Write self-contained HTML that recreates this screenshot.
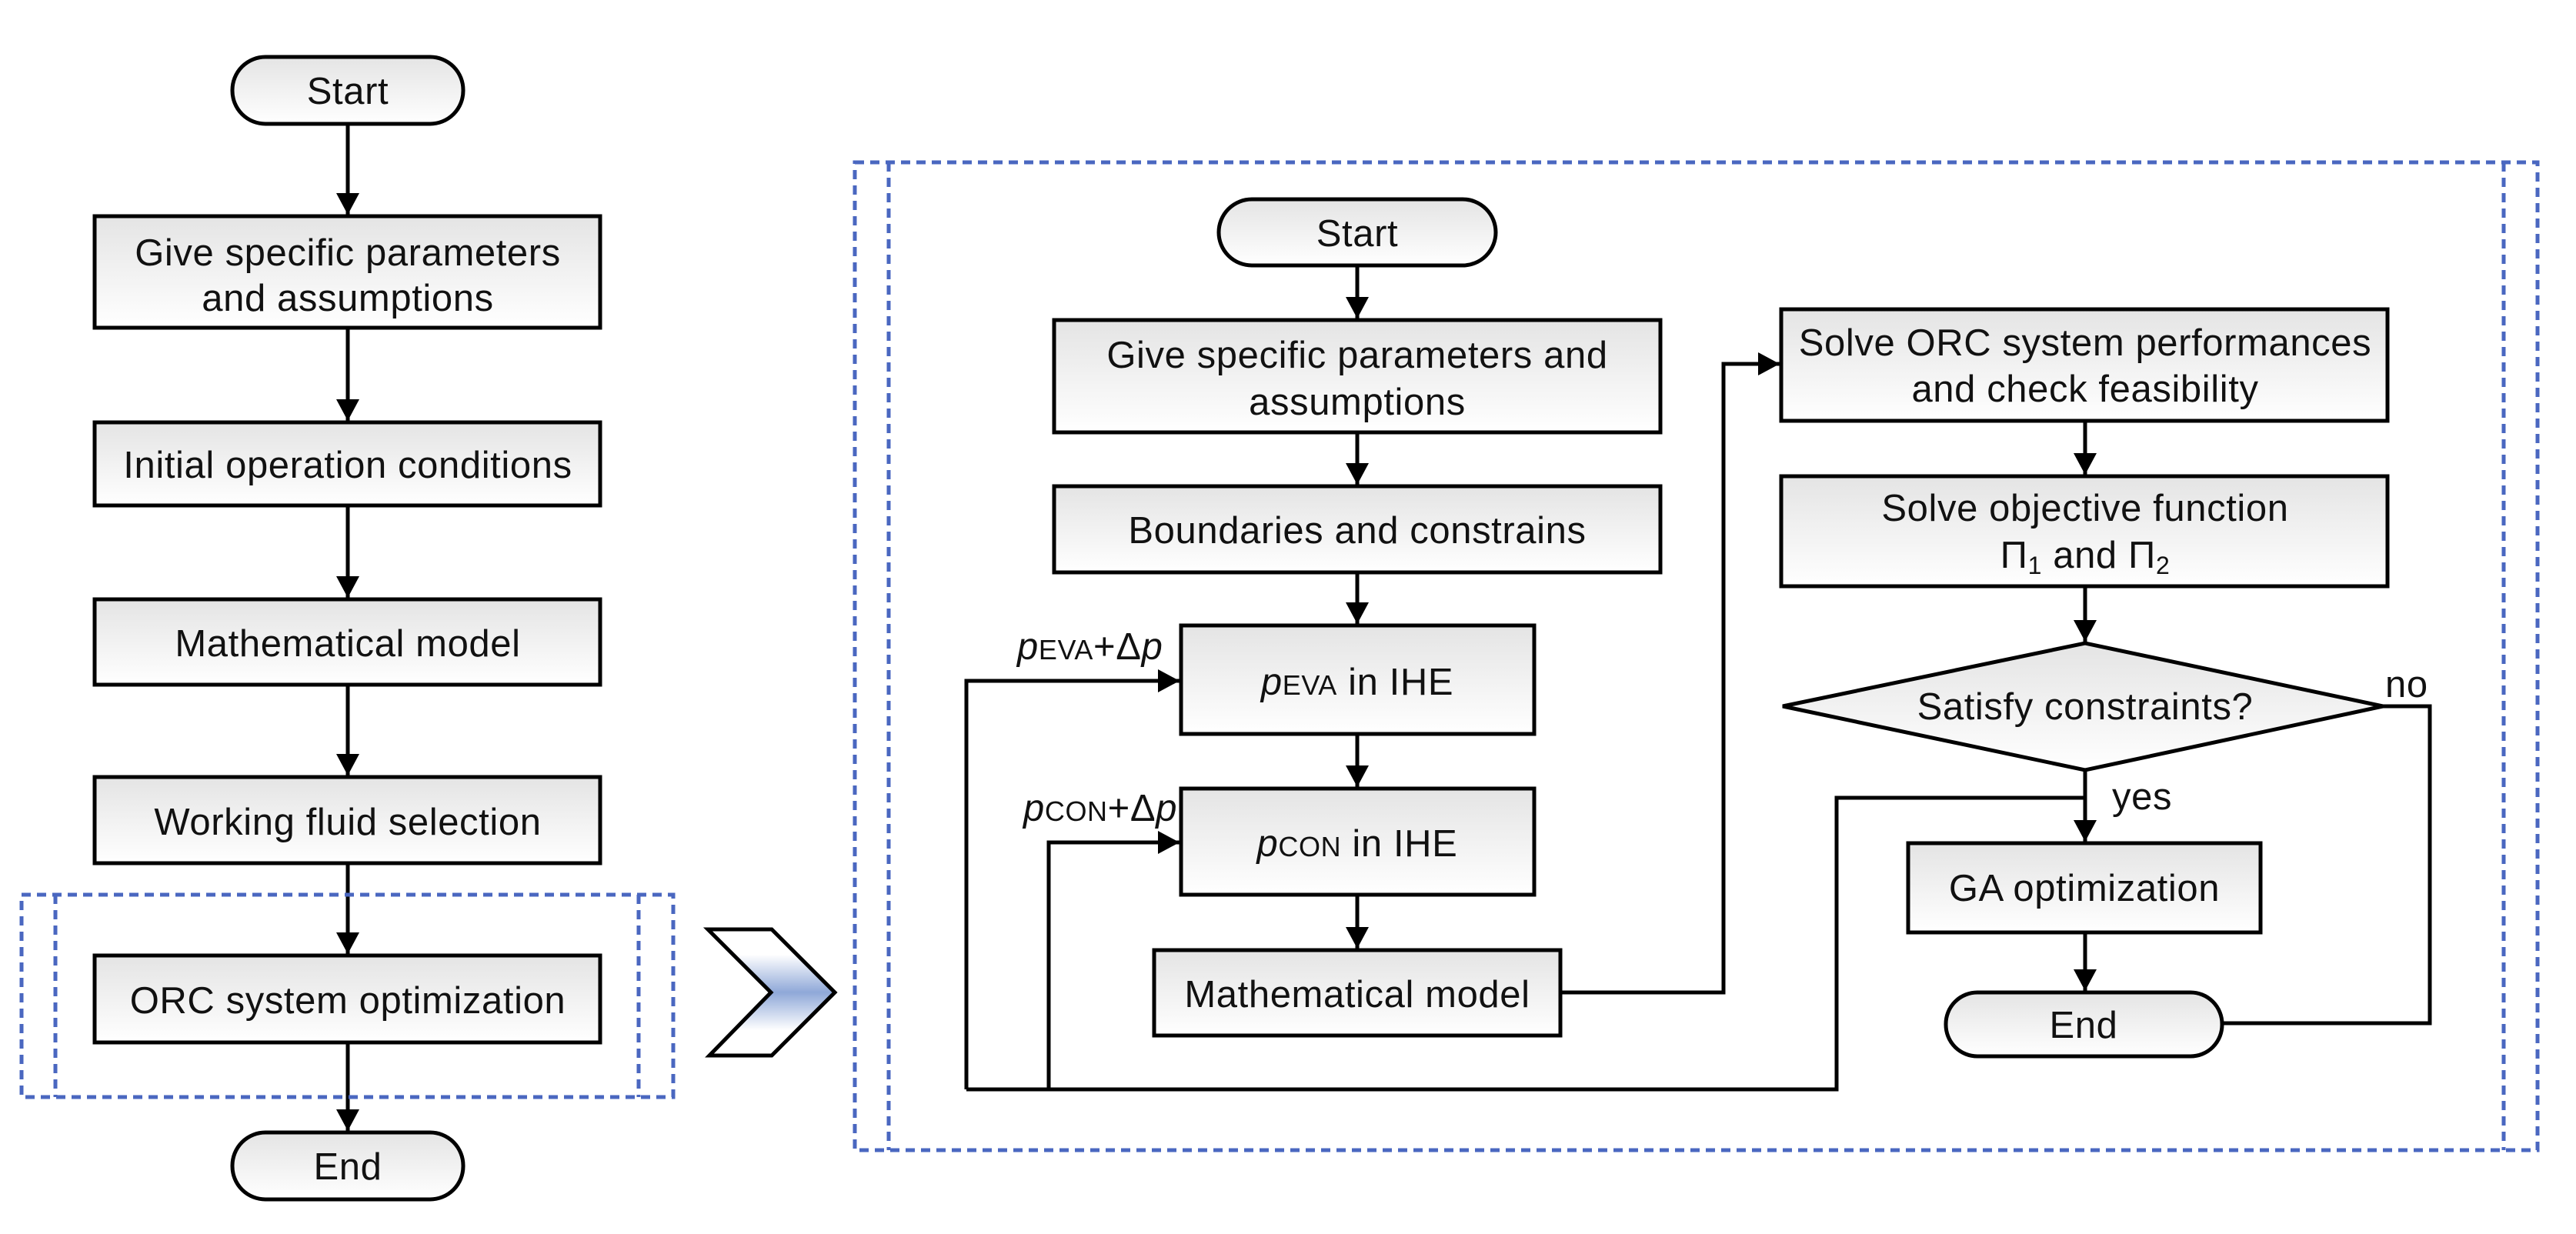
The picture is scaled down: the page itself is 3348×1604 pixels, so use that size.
<!DOCTYPE html>
<html><head><meta charset="utf-8"><style>
html,body{margin:0;padding:0;background:#fff;}
svg{display:block;}
text{font-family:"Liberation Sans",Arial,sans-serif;font-size:49px;letter-spacing:0.6px;fill:#111;}
</style></head><body>
<svg width="3348" height="1604" viewBox="0 0 3348 1604" xmlns="http://www.w3.org/2000/svg">
<defs>
<linearGradient id="g" x1="0" y1="0" x2="0" y2="1"><stop offset="0" stop-color="#e4e4e4"/><stop offset="1" stop-color="#ffffff"/></linearGradient>
<linearGradient id="cg" x1="0" y1="0" x2="0" y2="1"><stop offset="0.2" stop-color="#fff"/><stop offset="0.5" stop-color="#8fa8d8"/><stop offset="0.8" stop-color="#fff"/></linearGradient>
<marker id="ah" markerWidth="28" markerHeight="30" refX="28" refY="15" orient="auto" markerUnits="userSpaceOnUse"><path d="M0,0 L28,15 L0,30 z" fill="#000"/></marker>
</defs>
<g stroke="#000" stroke-width="5" fill="none" marker-end="url(#ah)">
<line x1="452" y1="161" x2="452" y2="279"/>
<line x1="452" y1="426" x2="452" y2="547"/>
<line x1="452" y1="657" x2="452" y2="777"/>
<line x1="452" y1="890" x2="452" y2="1008"/>
<line x1="452" y1="1122" x2="452" y2="1240"/>
<line x1="452" y1="1355" x2="452" y2="1470"/>
<line x1="1764" y1="345" x2="1764" y2="414"/>
<line x1="1764" y1="562" x2="1764" y2="630"/>
<line x1="1764" y1="744" x2="1764" y2="811"/>
<line x1="1764" y1="954" x2="1764" y2="1023"/>
<line x1="1764" y1="1163" x2="1764" y2="1233"/>
<polyline points="2028,1290 2240,1290 2240,473 2313,473"/>
<line x1="2710" y1="547" x2="2710" y2="617"/>
<line x1="2710" y1="762" x2="2710" y2="834"/>
<line x1="2710" y1="1001" x2="2710" y2="1094"/>
<line x1="2710" y1="1212" x2="2710" y2="1288"/>
<polyline points="1256,1416 1256,885 1533,885"/>
<polyline points="1363,1416 1363,1095 1533,1095"/>
</g>
<g stroke="#000" stroke-width="5" fill="none">
<polyline points="2710,1037 2387,1037 2387,1416 1256,1416"/>
<polyline points="3097,918 3158,918 3158,1330 2888,1330"/>
</g>
<g stroke="#000" stroke-width="5" fill="url(#g)">
<rect x="302" y="74" width="300" height="87" rx="43"/>
<rect x="123" y="281" width="657" height="145"/>
<rect x="123" y="549" width="657" height="108"/>
<rect x="123" y="779" width="657" height="111"/>
<rect x="123" y="1010" width="657" height="112"/>
<rect x="123" y="1242" width="657" height="113"/>
<rect x="302" y="1472" width="300" height="87" rx="43"/>
<rect x="1584" y="259" width="360" height="86" rx="43"/>
<rect x="1370" y="416" width="788" height="146"/>
<rect x="1370" y="632" width="788" height="112"/>
<rect x="1535" y="813" width="459" height="141"/>
<rect x="1535" y="1025" width="459" height="138"/>
<rect x="1500" y="1235" width="528" height="111"/>
<rect x="2315" y="402" width="788" height="145"/>
<rect x="2315" y="619" width="788" height="143"/>
<polygon points="2317,918 2710,836 3097,918 2710,1001"/>
<rect x="2480" y="1096" width="458" height="116"/>
<rect x="2529" y="1290" width="359" height="83" rx="41"/>
</g>
<polygon points="920,1208 1003,1208 1085,1290 1003,1372 922,1372 1002,1290" fill="url(#cg)" stroke="#000" stroke-width="5"/>
<g stroke="#4a67c0" stroke-width="5" fill="none" stroke-dasharray="12,8">
<rect x="28" y="1163" width="847" height="263"/>
<line x1="72" y1="1163" x2="72" y2="1426"/>
<line x1="830" y1="1163" x2="830" y2="1426"/>
<rect x="1111" y="211" width="2187" height="1284"/>
<line x1="1155" y1="211" x2="1155" y2="1495"/>
<line x1="3254" y1="211" x2="3254" y2="1495"/>
</g>
<g text-anchor="middle">
<text x="452" y="135">Start</text>
<text x="452" y="345">Give specific parameters</text>
<text x="452" y="404">and assumptions</text>
<text x="452" y="621">Initial operation conditions</text>
<text x="452" y="853">Mathematical model</text>
<text x="452" y="1085">Working fluid selection</text>
<text x="452" y="1317">ORC system optimization</text>
<text x="452" y="1533">End</text>
<text x="1764" y="320">Start</text>
<text x="1764" y="478">Give specific parameters and</text>
<text x="1764" y="539">assumptions</text>
<text x="1764" y="706">Boundaries and constrains</text>
<text x="1764" y="1309">Mathematical model</text>
<text x="2710" y="462">Solve ORC system performances</text>
<text x="2710" y="522">and check feasibility</text>
<text x="2710" y="677">Solve objective function</text>
<text x="2710" y="738">Π<tspan font-size="32" dy="8">1</tspan><tspan dy="-8"> and Π</tspan><tspan font-size="32" dy="8">2</tspan></text>
<text x="2710" y="935">Satisfy constraints?</text>
<text x="2709" y="1171">GA optimization</text>
<text x="2708" y="1349">End</text>
<text x="1764" y="903"><tspan font-style="italic">p</tspan><tspan font-size="36">EVA</tspan> in IHE</text>
<text x="1764" y="1113"><tspan font-style="italic">p</tspan><tspan font-size="36">CON</tspan> in IHE</text>
</g>
<text x="1322" y="857"><tspan font-style="italic">p</tspan><tspan font-size="36">EVA</tspan>+Δ<tspan font-style="italic">p</tspan></text>
<text x="1330" y="1067"><tspan font-style="italic">p</tspan><tspan font-size="36">CON</tspan>+Δ<tspan font-style="italic">p</tspan></text>
<text x="3100" y="906">no</text>
<text x="2745" y="1052">yes</text>
</svg>
</body></html>
